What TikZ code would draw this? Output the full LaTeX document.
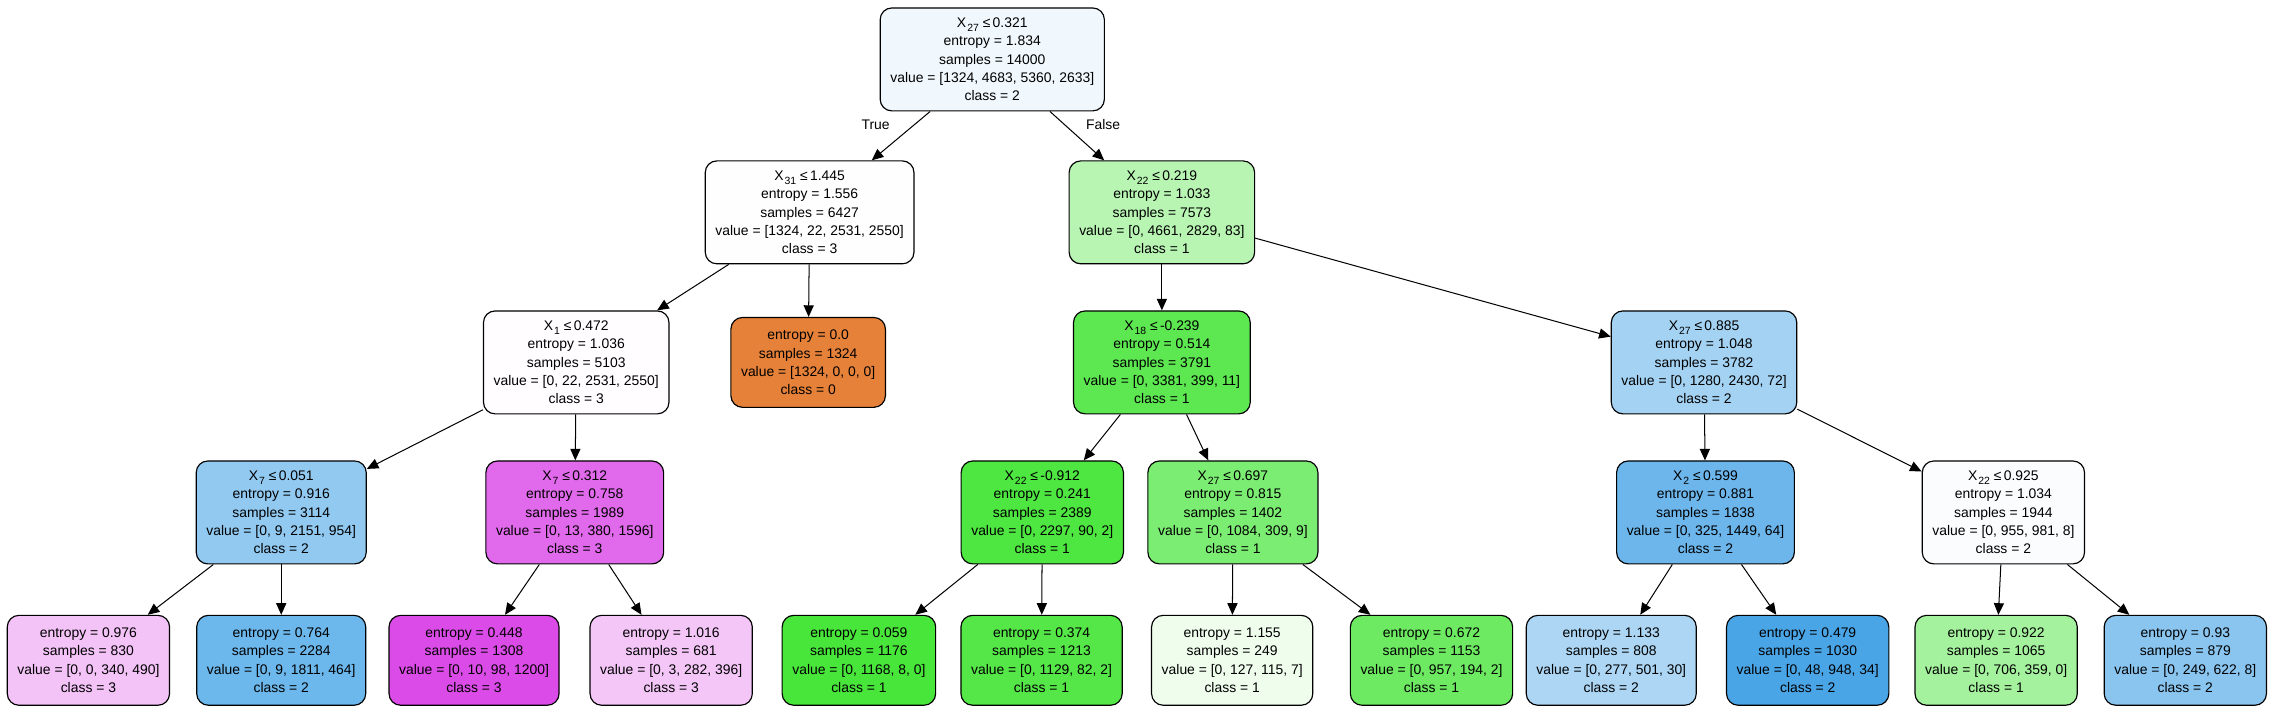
\documentclass[tikz,border=0pt]{standalone}
\usepackage{fontspec}
\setmainfont{Liberation Sans}
\usetikzlibrary{arrows.meta}

% feature name with lowered index
\newcommand{\xsub}[1]{X\kern0.7pt\raisebox{-2.4pt}{\fontsize{7.2}{7.2}\selectfont#1}}

% fill colours (class colour mixed with white by purity)
\definecolor{cn0}{RGB}{241,248,253}
\definecolor{cn1}{RGB}{255,254,255}
\definecolor{cn2}{RGB}{184,245,179}
\definecolor{cn3}{RGB}{255,253,255}
\definecolor{cn4}{RGB}{229,129,57}
\definecolor{cn5}{RGB}{93,232,81}
\definecolor{cn6}{RGB}{164,210,243}
\definecolor{cn7}{RGB}{145,201,241}
\definecolor{cn8}{RGB}{225,105,235}
\definecolor{cn9}{RGB}{78,230,65}
\definecolor{cn10}{RGB}{124,237,115}
\definecolor{cn11}{RGB}{108,182,236}
\definecolor{cn12}{RGB}{250,252,254}
\definecolor{cl1}{RGB}{243,194,247}
\definecolor{cl2}{RGB}{108,183,236}
\definecolor{cl3}{RGB}{219,75,231}
\definecolor{cl4}{RGB}{244,198,248}
\definecolor{cl5}{RGB}{72,229,58}
\definecolor{cl6}{RGB}{85,231,72}
\definecolor{cl7}{RGB}{239,253,237}
\definecolor{cl8}{RGB}{109,234,98}
\definecolor{cl9}{RGB}{172,214,244}
\definecolor{cl10}{RGB}{74,165,231}
\definecolor{cl11}{RGB}{165,242,158}
\definecolor{cl12}{RGB}{138,197,240}

\begin{document}
\begin{tikzpicture}[x=1pt,y=-1pt,
    decision/.style={draw, rounded corners=8pt, line width=0.8pt, align=center,
        inner xsep=7pt, inner ysep=2pt, minimum height=71pt,
        font=\fontsize{9.6}{12.6}\selectfont},
    leaf/.style={decision, minimum height=62pt},
    link/.style={line width=0.7pt, -{Triangle[length=8pt,width=7pt]}},
    lbl/.style={font=\fontsize{9.6}{12.6}\selectfont}]
    \useasboundingbox (0,0) rectangle (1568,489);
    % Root
    \node[decision, fill=cn0] (n0) at (684.5,41) {\xsub{27} ≤\,0.321\\entropy = 1.834\\samples = 14000\\value = [1324, 4683, 5360, 2633]\\class = 2};
    % Depth 1
    \node[decision, fill=cn1] (n1) at (558.5,146.5) {\xsub{31} ≤\,1.445\\entropy = 1.556\\samples = 6427\\value = [1324, 22, 2531, 2550]\\class = 3};
    \node[decision, fill=cn2] (n2) at (801.5,146.5) {\xsub{22} ≤\,0.219\\entropy = 1.033\\samples = 7573\\value = [0, 4661, 2829, 83]\\class = 1};
    % Depth 2
    \node[decision, fill=cn3] (n3) at (397.5,250) {\xsub{1} ≤\,0.472\\entropy = 1.036\\samples = 5103\\value = [0, 22, 2531, 2550]\\class = 3};
    \node[leaf, fill=cn4] (n4) at (557.5,250) {entropy = 0.0\\samples = 1324\\value = [1324, 0, 0, 0]\\class = 0};
    \node[decision, fill=cn5] (n5) at (801.5,250) {\xsub{18} ≤\,-0.239\\entropy = 0.514\\samples = 3791\\value = [0, 3381, 399, 11]\\class = 1};
    \node[decision, fill=cn6] (n6) at (1175.5,250) {\xsub{27} ≤\,0.885\\entropy = 1.048\\samples = 3782\\value = [0, 1280, 2430, 72]\\class = 2};
    % Depth 3
    \node[decision, fill=cn7] (n7) at (194,353.5) {\xsub{7} ≤\,0.051\\entropy = 0.916\\samples = 3114\\value = [0, 9, 2151, 954]\\class = 2};
    \node[decision, fill=cn8] (n8) at (396.5,353.5) {\xsub{7} ≤\,0.312\\entropy = 0.758\\samples = 1989\\value = [0, 13, 380, 1596]\\class = 3};
    \node[decision, fill=cn9] (n9) at (719,353.5) {\xsub{22} ≤\,-0.912\\entropy = 0.241\\samples = 2389\\value = [0, 2297, 90, 2]\\class = 1};
    \node[decision, fill=cn10] (n10) at (850.5,353.5) {\xsub{27} ≤\,0.697\\entropy = 0.815\\samples = 1402\\value = [0, 1084, 309, 9]\\class = 1};
    \node[decision, fill=cn11] (n11) at (1176.5,353.5) {\xsub{2} ≤\,0.599\\entropy = 0.881\\samples = 1838\\value = [0, 325, 1449, 64]\\class = 2};
    \node[decision, fill=cn12] (n12) at (1382,353.5) {\xsub{22} ≤\,0.925\\entropy = 1.034\\samples = 1944\\value = [0, 955, 981, 8]\\class = 2};
    % Leaves
    \node[leaf, fill=cl1] (l1) at (61,455.5) {entropy = 0.976\\samples = 830\\value = [0, 0, 340, 490]\\class = 3};
    \node[leaf, fill=cl2] (l2) at (194,455.5) {entropy = 0.764\\samples = 2284\\value = [0, 9, 1811, 464]\\class = 2};
    \node[leaf, fill=cl3] (l3) at (327,455.5) {entropy = 0.448\\samples = 1308\\value = [0, 10, 98, 1200]\\class = 3};
    \node[leaf, fill=cl4] (l4) at (463,455.5) {entropy = 1.016\\samples = 681\\value = [0, 3, 282, 396]\\class = 3};
    \node[leaf, fill=cl5] (l5) at (592.5,455.5) {entropy = 0.059\\samples = 1176\\value = [0, 1168, 8, 0]\\class = 1};
    \node[leaf, fill=cl6] (l6) at (718.5,455.5) {entropy = 0.374\\samples = 1213\\value = [0, 1129, 82, 2]\\class = 1};
    \node[leaf, fill=cl7] (l7) at (850,455.5) {entropy = 1.155\\samples = 249\\value = [0, 127, 115, 7]\\class = 1};
    \node[leaf, fill=cl8] (l8) at (987.5,455.5) {entropy = 0.672\\samples = 1153\\value = [0, 957, 194, 2]\\class = 1};
    \node[leaf, fill=cl9] (l9) at (1111.5,455.5) {entropy = 1.133\\samples = 808\\value = [0, 277, 501, 30]\\class = 2};
    \node[leaf, fill=cl10] (l10) at (1247,455.5) {entropy = 0.479\\samples = 1030\\value = [0, 48, 948, 34]\\class = 2};
    \node[leaf, fill=cl11] (l11) at (1377,455.5) {entropy = 0.922\\samples = 1065\\value = [0, 706, 359, 0]\\class = 1};
    \node[leaf, fill=cl12] (l12) at (1507.5,455.5) {entropy = 0.93\\samples = 879\\value = [0, 249, 622, 8]\\class = 2};
    % Edges
    \draw[link] (n0) -- (n1);
    \draw[link] (n0) -- (n2);
    \draw[link] (n1) -- (n3);
    \draw[link] (n1) -- (n4);
    \draw[link] (n2) -- (n5);
    \draw[link] (n2) -- (n6);
    \draw[link] (n3) -- (n7);
    \draw[link] (n3) -- (n8);
    \draw[link] (n5) -- (n9);
    \draw[link] (n5) -- (n10);
    \draw[link] (n6) -- (n11);
    \draw[link] (n6) -- (n12);
    \draw[link] (n7) -- (l1);
    \draw[link] (n7) -- (l2);
    \draw[link] (n8) -- (l3);
    \draw[link] (n8) -- (l4);
    \draw[link] (n9) -- (l5);
    \draw[link] (n9) -- (l6);
    \draw[link] (n10) -- (l7);
    \draw[link] (n10) -- (l8);
    \draw[link] (n11) -- (l9);
    \draw[link] (n11) -- (l10);
    \draw[link] (n12) -- (l11);
    \draw[link] (n12) -- (l12);
    % Edge labels
    \node[lbl] (yes) at (604,86) {True};
    \node[lbl] (no) at (761,86) {False};
\end{tikzpicture}
\end{document}
